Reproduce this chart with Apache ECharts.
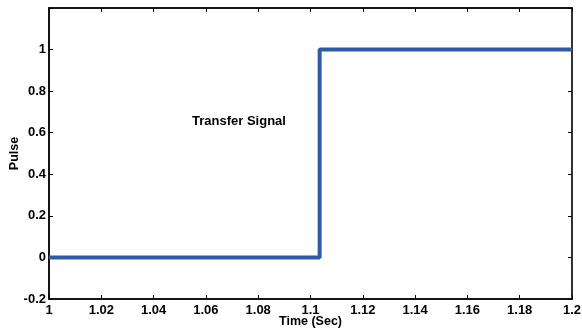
<!DOCTYPE html>
<html>
<head>
<meta charset="utf-8">
<script src="https://cdn.jsdelivr.net/npm/echarts@6/dist/echarts.min.js"></script>
<style>html,body{margin:0;padding:0;background:#fff}#c{width:582px;height:331px}</style>
</head>
<body>
<div id="c"></div>
<script>
// Data
const times = [1, 1.1035, 1.1035, 1.2];
const pulse = [0, 0, 1, 1];
const annotation = 'Transfer Signal';
const xTitle = 'Time (Sec)';
const yTitle = 'Pulse';

const font = '"Liberation Sans", Arial, sans-serif';
const chart = echarts.init(document.getElementById('c'), null, {renderer: 'canvas'});
const axisLine = {show: true, onZero: false, lineStyle: {color: '#000', width: 1.5}};
const tickIn = {show: true, inside: true, length: 4, lineStyle: {color: '#000', width: 1}};
const lbl = {color: '#000', fontWeight: 'bold', fontSize: 13, fontFamily: font};

chart.setOption({
  animation: false,
  backgroundColor: '#fff',
  grid: {left: 49, right: 10, top: 8, bottom: 32, containLabel: false, outerBoundsMode: 'none',
         show: true, borderColor: '#222', borderWidth: 1.5, backgroundColor: 'transparent'},
  xAxis: [{
    type: 'value', min: 1, max: 1.2, interval: 0.02,
    axisLine: axisLine, axisTick: tickIn, splitLine: {show: false},
    axisLabel: Object.assign({margin: 5, formatter: v => +v.toFixed(2) + ''}, lbl),
    name: xTitle, nameLocation: 'middle', nameGap: 16, nameMoveOverlap: false,
    nameTextStyle: {color: '#000', fontWeight: 'bold', fontSize: 12.5, fontFamily: font}
  }, {
    type: 'value', position: 'top', min: 1, max: 1.2, interval: 0.02,
    axisLine: axisLine, axisTick: tickIn, axisLabel: {show: false}, splitLine: {show: false}
  }],
  yAxis: [{
    type: 'value', min: -0.2, max: 1.2, interval: 0.2,
    axisLine: axisLine, axisTick: tickIn, splitLine: {show: false},
    axisLabel: Object.assign({margin: 3, formatter: v => (Math.abs(v - 1.2) < 1e-9 ? '' : (+v.toFixed(1)) + '')}, lbl),
    name: yTitle, nameLocation: 'middle', nameGap: 28, nameMoveOverlap: false,
    nameTextStyle: {color: '#000', fontWeight: 'bold', fontSize: 12.5, fontFamily: font}
  }, {
    type: 'value', position: 'right', min: -0.2, max: 1.2, interval: 0.2,
    axisLine: {show: true, onZero: false, lineStyle: {color: '#333', width: 2}}, axisTick: tickIn,
    axisLabel: {show: false}, splitLine: {show: false}
  }],
  series: [{
    type: 'line',
    data: times.map((t, i) => [t, pulse[i]]),
    showSymbol: false,
    lineStyle: {color: '#2d5ba9', width: 4},
    itemStyle: {color: '#2d5ba9'}
  }],
  graphic: [{
    type: 'text', left: 192, top: 115,
    style: {text: annotation, fill: '#000', font: 'bold 13px ' + font}
  }]
});
</script>
</body>
</html>
